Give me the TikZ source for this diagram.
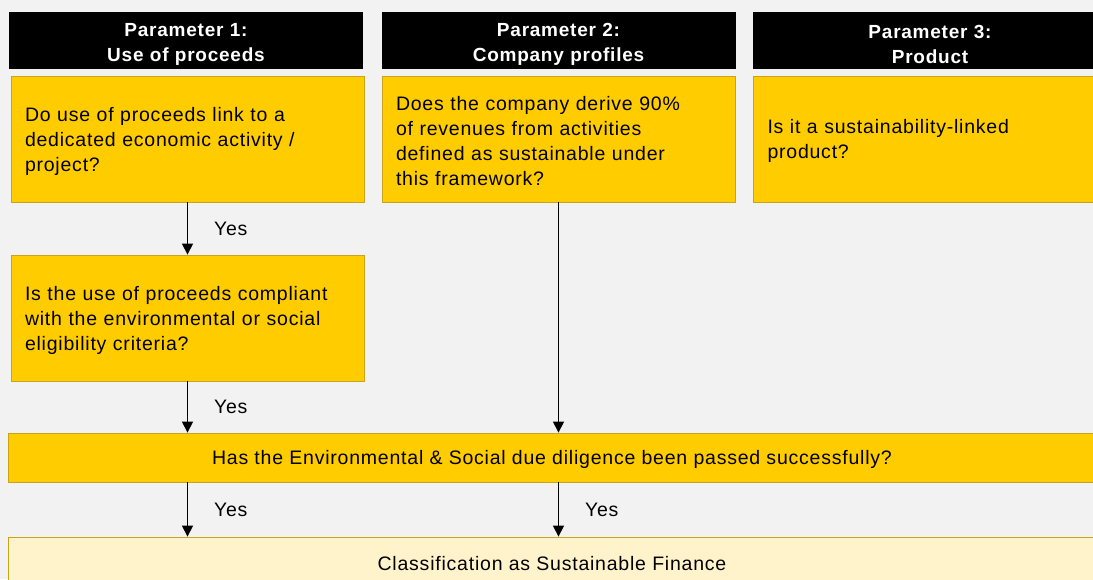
\documentclass[tikz,border=0pt]{standalone}
\usepackage{fontspec}
\setmainfont[LetterSpace=4]{Liberation Sans}
\usetikzlibrary{arrows.meta}
\definecolor{bggray}{HTML}{F2F2F2}
\definecolor{gold}{HTML}{FFCC00}
\definecolor{goldline}{HTML}{C9A31A}
\definecolor{paleyellow}{HTML}{FFF3CC}
\begin{document}
\begin{tikzpicture}[x=1pt, y=-1pt,
  every node/.style={font=\fontsize{19.5}{25}\selectfont, inner sep=0pt},
  head/.style={fill=black, text=white, font=\fontsize{19}{25}\selectfont\bfseries, minimum width=354pt, minimum height=57pt, text width=354pt, align=center, execute at begin node=\rule{0pt}{21.5pt}},
  question/.style={fill=gold, draw=goldline, line width=0.8pt, minimum width=353pt, minimum height=126pt, text width=325pt, align=left, execute at begin node=\rule{0pt}{19pt}},
  band/.style={draw=goldline, line width=0.8pt, minimum width=1088pt, minimum height=49pt, align=center},
  flow/.style={-{Triangle[length=11pt, width=11pt]}, line width=1.2pt},
  yes/.style={midway, right=26pt}]
  \useasboundingbox (0,0) rectangle (1093,579);
  \clip (0,0) rectangle (1093,579);
  \fill[bggray] (0,0) rectangle (1093,579);
  % column headers
  \node[head] (h1) at (186,40.5) {Parameter 1:\\Use of proceeds};
  \node[head] (h2) at (558.5,40.5) {Parameter 2:\\Company profiles};
  \node[head] (h3) at (930,40.5) {Parameter 3:\\Product};
  % questions
  \node[question] (q1) at (187.5,139) {Do use of proceeds link to a\\dedicated economic activity /\\project?};
  \node[question] (q2) at (558.5,139) {Does the company derive 90\%\\of revenues from activities\\defined as sustainable under\\this framework?};
  \node[question] (q3) at (930,139) {Is it a sustainability-linked\\product?};
  \node[question] (q4) at (187.5,318) {Is the use of proceeds compliant\\with the environmental or social\\eligibility criteria?};
  \node[band, fill=gold, text height=19pt, text depth=6pt] (dd) at (552,457.5) {Has the Environmental \& Social due diligence been passed successfully?};
  \node[band, fill=paleyellow, text height=23pt, text depth=6pt] (sf) at (552,561.5) {Classification as Sustainable Finance};
  % arrows
  \draw[flow] (q1.south) -- (q4.north) node[yes] {Yes};
  \draw[flow] (q4.south) -- (q4.south |- dd.north) node[yes] {Yes};
  \draw[flow] (q2.south) -- (q2.south |- dd.north);
  \draw[flow] (dd.south -| q1.south) -- (sf.north -| q1.south) node[yes] {Yes};
  \draw[flow] (dd.south -| q2.south) -- (sf.north -| q2.south) node[yes] {Yes};
\end{tikzpicture}
\end{document}
